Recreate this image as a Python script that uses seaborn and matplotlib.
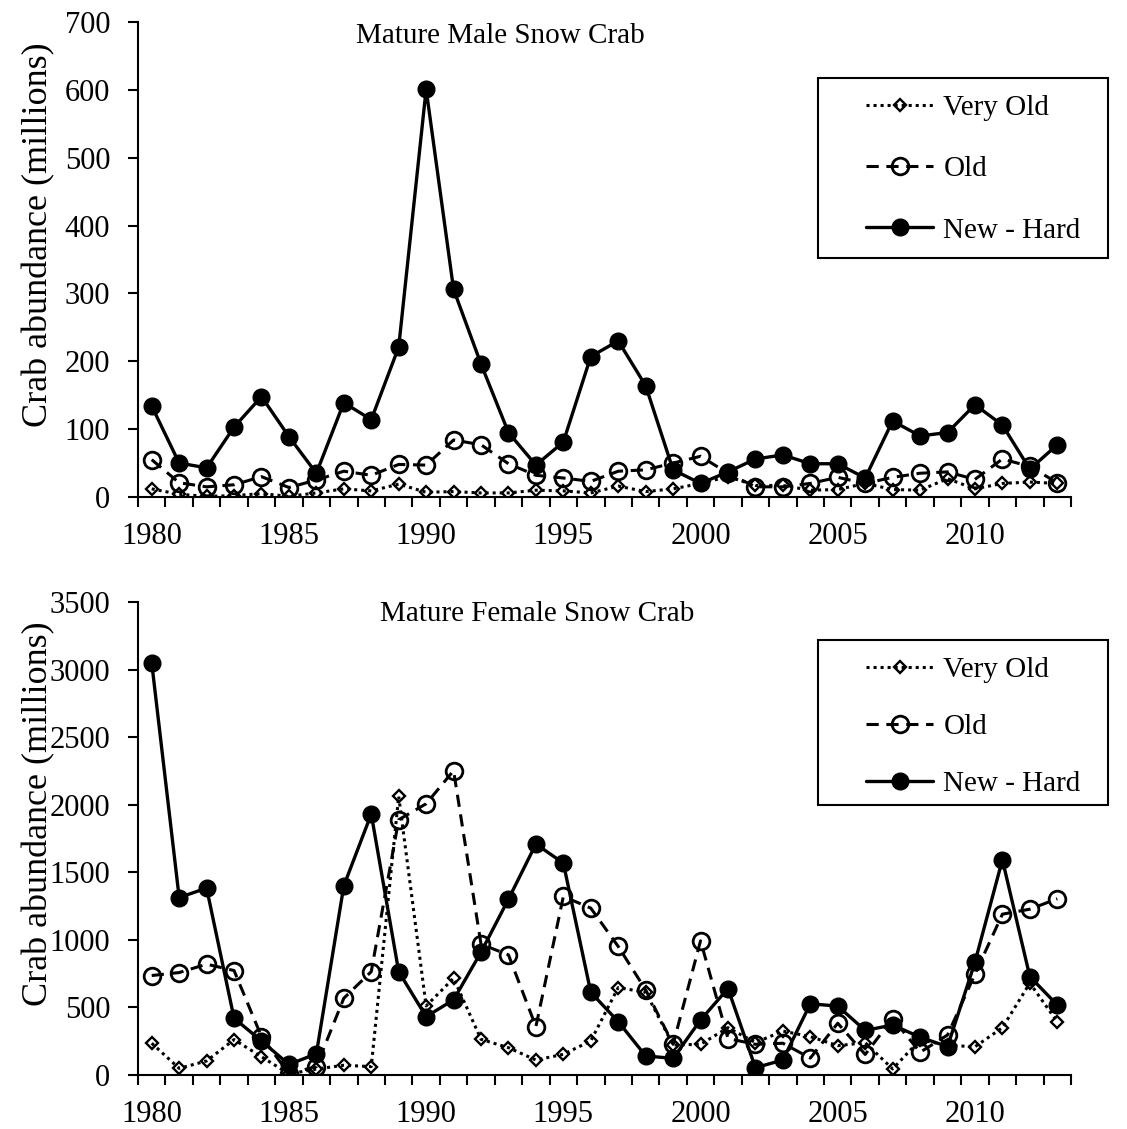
import numpy as np
import pandas as pd
import seaborn as sns
import matplotlib
matplotlib.use("Agg")
import matplotlib.pyplot as plt
from matplotlib.lines import Line2D
from matplotlib.patches import Rectangle
from matplotlib.ticker import FixedLocator

# ---- data (abundance, millions) ----
years = list(range(1980, 2014))
stages = ["Very Old", "Old", "New - Hard"]

male_very_old = [12, 4, 1, 2, 5, 1, 6, 12, 9, 19, 7, 8, 6, 6, 10, 9, 6, 16, 8, 12,
                 20, 30, 17, 17, 10, 11, 20, 11, 10, 27, 12, 20, 22, 20]
male_old = [55, 21, 15, 18, 30, 14, 25, 38, 32, 48, 47, 84, 77, 49, 32, 28, 23, 38, 40, 50,
            60, 35, 15, 15, 20, 29, 20, 29, 35, 37, 26, 56, 45, 21]
male_new_hard = [134, 50, 43, 103, 148, 89, 35, 139, 114, 221, 601, 306, 196, 95, 47, 81, 207, 230, 164, 40,
                 20, 37, 56, 62, 49, 49, 28, 112, 90, 95, 136, 106, 41, 77]

female_very_old = [235, 49, 104, 262, 135, 8, 44, 72, 62, 2062, 511, 716, 264, 202, 111, 153, 252, 647, 612, 222,
                   227, 350, 240, 325, 284, 217, 239, 45, 260, 220, 209, 350, 680, 394]
female_old = [736, 758, 820, 773, 284, 10, 62, 568, 765, 1889, 2007, 2252, 968, 889, 358, 1321, 1235, 951, 630, 227,
              993, 270, 227, 235, 125, 383, 152, 418, 168, 296, 746, 1190, 1227, 1304]
female_new_hard = [3050, 1313, 1383, 420, 252, 78, 157, 1400, 1931, 765, 432, 556, 909, 1301, 1709, 1568, 612, 395, 141, 123,
                   407, 640, 54, 111, 527, 510, 330, 370, 280, 210, 835, 1593, 728, 518]

year_labels = [1980, 1985, 1990, 1995, 2000, 2005, 2010]

# ---- styling ----
sns.set_theme(style="ticks", rc={
    "axes.edgecolor": "black", "text.color": "black", "axes.labelcolor": "black",
    "xtick.color": "black", "ytick.color": "black",
})
plt.rcParams["font.family"] = ["Liberation Serif", "DejaVu Serif"]

line_styles = {
    "Very Old": dict(linestyle=(0, (1, 1.3)), linewidth=2.2, marker="D", markersize=6.5,
                     markerfacecolor="none", markeredgecolor="black", markeredgewidth=1.7),
    "Old": dict(linestyle=(0, (4, 2.5)), linewidth=2.2, marker="o", markersize=12,
                markerfacecolor="none", markeredgecolor="black", markeredgewidth=2.0),
    "New - Hard": dict(linestyle="-", linewidth=2.4, marker="o", markersize=12,
                       markerfacecolor="black", markeredgecolor="black", markeredgewidth=1.0),
}

W, H = 1127, 1129
fig = plt.figure(figsize=(W / 100, H / 100), dpi=100)


def fig_box(left, top, right, bottom):
    return [left / W, 1 - bottom / H, (right - left) / W, (bottom - top) / H]


ax_male = fig.add_axes(fig_box(138, 22, 1071, 497))
ax_female = fig.add_axes(fig_box(138, 602, 1071, 1075))

panels = [
    (ax_male, [male_very_old, male_old, male_new_hard], 700, 100, "Mature Male Snow Crab", (0.388, 0.970)),
    (ax_female, [female_very_old, female_old, female_new_hard], 3500, 500, "Mature Female Snow Crab", (0.428, 0.974)),
]

for ax, series, ymax, ystep, title, title_pos in panels:
    frame = pd.DataFrame({"year": years})
    for stage, vals in zip(stages, series):
        frame[stage] = vals
        sns.lineplot(data=frame, x="year", y=stage, ax=ax, color="black",
                     legend=False, **line_styles[stage])

    ax.set_xlim(1979.5, 2013.5)
    ax.set_ylim(0, ymax)
    ax.set_yticks(np.arange(0, ymax + 1, ystep))
    ax.xaxis.set_major_locator(FixedLocator(year_labels))
    ax.xaxis.set_minor_locator(FixedLocator(np.arange(1979.5, 2014, 1.0)))
    ax.tick_params(axis="x", which="major", length=0, pad=18, labelsize=22)
    ax.tick_params(axis="x", which="minor", length=7, width=1.5, direction="out")
    ax.tick_params(axis="y", which="major", length=7, width=1.5, direction="out",
                   labelsize=22, pad=13)
    for side in ("top", "right"):
        ax.spines[side].set_visible(False)
    for side in ("left", "bottom"):
        ax.spines[side].set_linewidth(1.5)
    ax.set_xlabel("")
    ax.set_ylabel("Crab abundance (millions)", fontsize=26)
    ax.yaxis.set_label_coords(-0.089, 0.552)
    ax.text(title_pos[0], title_pos[1], title, transform=ax.transAxes,
            ha="center", va="center", fontsize=21)

# ---- legends ----
handles = [Line2D([], [], color="black", **line_styles[s]) for s in stages]

legend_boxes = [
    ((818, 78, 1108, 258), 169, 1.2),
    ((818, 640, 1108, 805), 727, 1.05),
]
for (l, t, r, b), cy, spacing in legend_boxes:
    fig.patches.append(Rectangle((l / W, 1 - b / H), (r - l) / W, (b - t) / H,
                                 transform=fig.transFigure, fill=False,
                                 edgecolor="black", linewidth=1.5))
    fig.legend(handles, stages, loc="center left", bbox_to_anchor=(866 / W, 1 - cy / H),
               frameon=False, fontsize=21, handlelength=2.3, handletextpad=0.35,
               labelspacing=spacing, borderpad=0, borderaxespad=0, numpoints=1)

fig.savefig("out.png", dpi=100)
